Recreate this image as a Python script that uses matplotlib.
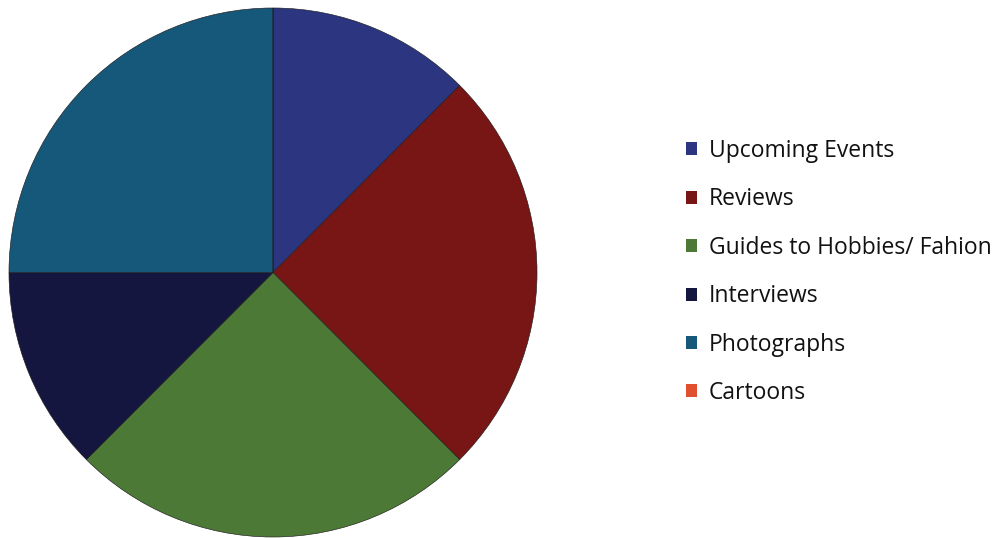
import matplotlib
matplotlib.use("Agg")
import matplotlib.pyplot as plt
from matplotlib.patches import Patch

categories = ["Upcoming Events", "Reviews", "Guides to Hobbies/ Fahion",
              "Interviews", "Photographs", "Cartoons"]
values = [1, 2, 2, 1, 2, 0]
colors = ["#2b3580", "#781515", "#4d7936", "#15163f", "#16587a", "#e0502e"]

W, H = 1005, 538
fig = plt.figure(figsize=(W / 100, H / 100), dpi=100)
fig.patch.set_facecolor("white")

# pie area in pixel terms: left, top, width, height
px_l, px_t, px_w, px_h = 9, 8, 528, 529
ax = fig.add_axes([px_l / W, 1 - (px_t + px_h) / H, px_w / W, px_h / H])
ax.pie(values, colors=colors, startangle=90, counterclock=False,
       radius=1.0, wedgeprops=dict(edgecolor="#1e1e1e", linewidth=0.45))
ax.set_xlim(-1.0, 1.0)
ax.set_ylim(-1.0, 1.0)
ax.set_aspect("auto")
ax.axis("off")

handles = [Patch(facecolor=c, edgecolor="none") for c in colors]
fig.legend(handles, categories, loc="upper left",
           bbox_to_anchor=(686 / W, 1 - 139 / H),
           frameon=False, borderpad=0, borderaxespad=0,
           handlelength=0.5, handleheight=0.5, handletextpad=0.5,
           labelspacing=1.065, labelcolor="#111111",
           prop={"family": "Open Sans", "size": 16.5})

fig.savefig("out.png", dpi=100, facecolor="white")
